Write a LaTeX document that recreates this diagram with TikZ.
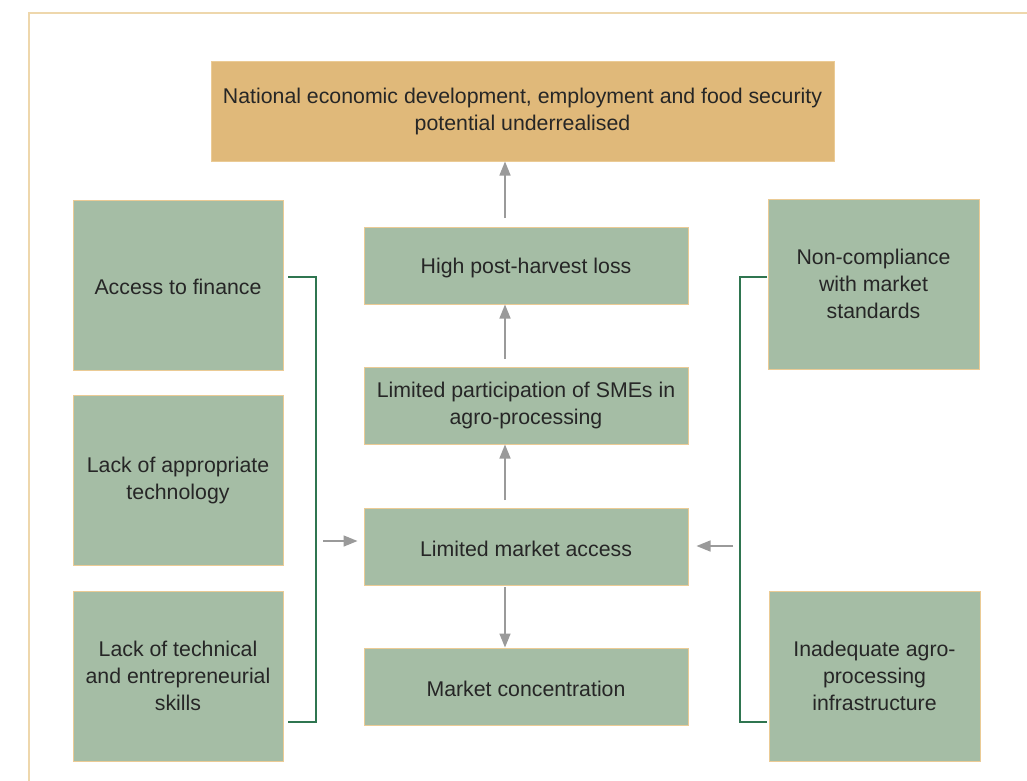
\documentclass[tikz,border=0pt]{standalone}
\usepackage{fontspec}
\setmainfont{Liberation Sans}
\usetikzlibrary{arrows.meta}
\definecolor{boxgreen}{HTML}{A5BDA5}
\definecolor{boxtan}{HTML}{E0B97A}
\definecolor{edgetan}{HTML}{EBCB95}
\definecolor{framecol}{HTML}{EED7AC}
\definecolor{arrowgray}{HTML}{9A9A9A}
\definecolor{brackgreen}{HTML}{2F7550}
\tikzset{
  px/.style={x=1pt,y=-1pt},
  gbox/.style={draw=edgetan, line width=1pt, fill=boxgreen, align=center, inner sep=0pt,
    font=\fontsize{21.3}{27}\selectfont, text=black!85,
    execute at begin node={\rule{0pt}{19.5pt}}},
  tbox/.style={gbox, fill=boxtan},
  garrow/.style={draw=arrowgray, line width=1.5pt, -{Triangle[length=14pt,width=11pt]}},
  bracket/.style={draw=brackgreen, line width=1.3pt},
}
\begin{document}
\begin{tikzpicture}[px]
\useasboundingbox (0,0) rectangle (1027,780);
\fill[white] (0,0) rectangle (1027,780);
% frame
\draw[framecol, line width=2pt] (29,790) -- (29,13) -- (1040,13);
% boxes
\node[tbox, minimum width=623pt, minimum height=100pt] (top) at (522.5,111) {National economic development, employment and food security\\potential underrealised};
\node[gbox, minimum width=324pt, minimum height=77pt] (loss) at (526,265.5) {High post-harvest loss};
\node[gbox, minimum width=324pt, minimum height=77pt] (sme) at (526,405.5) {Limited participation of SMEs in\\agro-processing};
\node[gbox, minimum width=324pt, minimum height=77pt] (mkt) at (526,546.5) {Limited market access};
\node[gbox, minimum width=324pt, minimum height=77pt] (conc) at (526,686.5) {Market concentration};
\node[gbox, minimum width=210pt, minimum height=170pt] (fin) at (178,285) {Access to finance};
\node[gbox, minimum width=210pt, minimum height=170pt] (tech) at (178,480) {Lack of appropriate\\technology};
\node[gbox, minimum width=210pt, minimum height=170pt] (skill) at (178,676) {Lack of technical\\and entrepreneurial\\skills};
\node[gbox, minimum width=211pt, minimum height=170pt] (comp) at (873.5,284) {Non-compliance\\with market\\standards};
\node[gbox, minimum width=211pt, minimum height=170pt] (infra) at (874.5,676) {Inadequate agro-\\processing\\infrastructure};
% coordinates for brackets and free arrow ends
\coordinate (lb1) at (288,277);
\coordinate (lb2) at (316,277);
\coordinate (lb3) at (316,722);
\coordinate (lb4) at (288,722);
\coordinate (la) at (323,541);
\coordinate (rb1) at (767,277);
\coordinate (rb2) at (740,277);
\coordinate (rb3) at (740,722);
\coordinate (rb4) at (767,722);
\coordinate (ra) at (733,546);
\draw[bracket] (lb1) -- (lb2) -- (lb3) -- (lb4);
\draw[bracket] (rb1) -- (rb2) -- (rb3) -- (rb4);
% arrows
\draw[garrow] (505,218) -- (top.south -| 505,0);
\draw[garrow] (505,359) -- (loss.south -| 505,0);
\draw[garrow] (505,500) -- (sme.south -| 505,0);
\draw[garrow] (505,587) -- (conc.north -| 505,0);
\draw[garrow, shorten >=6pt] (la) -- (mkt.west |- la);
\draw[garrow, shorten >=8pt] (ra) -- (mkt.east |- ra);
\end{tikzpicture}
\end{document}
